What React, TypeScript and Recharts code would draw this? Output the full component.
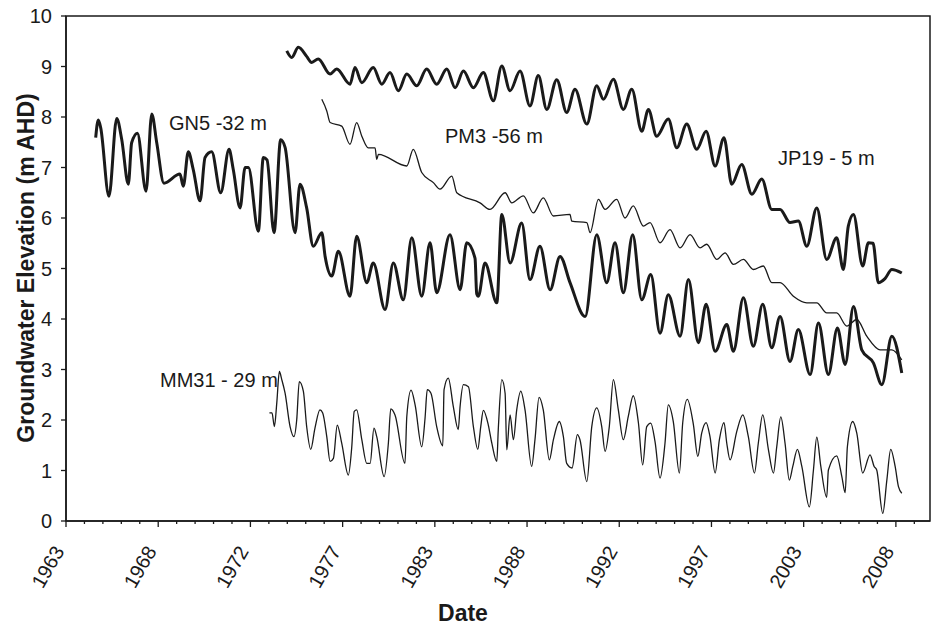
import { LineChart, Line, XAxis, YAxis, ReferenceArea } from 'recharts';

// x values are in axis-years (1963 at the first tick, one minor tick per year)
const xTickLabels = ['1963', '1968', '1972', '1977', '1983', '1988', '1992', '1997', '2003', '2008'];
const xTicks = Array.from({ length: 47 }, (_, i) => 1963 + i);
const yTicks = [0, 1, 2, 3, 4, 5, 6, 7, 8, 9, 10];

const gn5Years = [1964.61, 1964.75, 1964.88, 1965.33, 1965.75, 1966.02, 1966.38, 1966.56, 1966.87, 1967.34, 1967.65, 1967.92, 1968.31, 1969.18, 1969.36, 1969.63, 1969.9, 1970.27, 1970.54, 1970.9, 1971.39, 1971.84, 1972.07, 1972.44, 1972.71, 1972.89, 1973.43, 1973.7, 1973.9, 1974.28, 1974.64, 1974.88, 1975.42, 1975.69, 1976.05, 1976.41, 1976.87, 1977.05, 1977.41, 1977.77, 1978.4, 1978.76, 1979.31, 1979.66, 1980.3, 1980.75, 1981.29, 1981.75, 1982.29, 1982.74, 1983.1, 1983.82, 1984.37, 1984.73, 1985.18, 1985.27, 1985.36, 1985.72, 1986.36, 1986.63, 1987.08, 1987.71, 1988.16, 1988.7, 1989.25, 1989.79, 1990.33, 1991.15, 1991.78, 1992.32, 1992.77, 1993.22, 1993.73, 1994.22, 1994.71, 1995.21, 1995.66, 1996.3, 1996.75, 1997.29, 1997.71, 1998.2, 1998.83, 1999.19, 1999.73, 2000.27, 2000.78, 2001.27, 2001.72, 2002.26, 2002.71, 2003.35, 2003.8, 2004.34, 2004.83, 2005.25, 2005.7, 2006.15, 2006.78, 2007.24, 2007.78, 2008.32];
const gn5Levels = [7.59, 7.94, 7.79, 6.43, 7.97, 7.56, 6.67, 7.49, 7.68, 6.53, 8.06, 7.49, 6.69, 6.87, 6.63, 7.31, 6.96, 6.34, 7.2, 7.31, 6.5, 7.36, 6.96, 6.2, 7.0, 7.0, 5.74, 7.2, 7.15, 5.71, 7.55, 7.4, 5.71, 6.67, 6.2, 5.44, 5.71, 5.24, 4.85, 5.34, 4.45, 5.64, 4.72, 5.11, 4.19, 5.11, 4.38, 5.61, 4.45, 5.51, 4.52, 5.67, 4.58, 5.51, 5.2, 4.5, 4.45, 5.11, 4.32, 6.07, 5.11, 5.9, 4.78, 5.44, 4.58, 5.24, 4.72, 4.05, 5.67, 4.72, 5.51, 4.52, 5.67, 4.38, 4.88, 3.72, 4.48, 3.66, 4.78, 3.53, 4.29, 3.36, 3.89, 3.36, 4.42, 3.46, 4.29, 3.43, 4.05, 3.16, 3.79, 2.9, 3.92, 2.9, 3.82, 3.1, 4.25, 3.39, 3.13, 2.7, 3.66, 2.93];

const jp19Years = [1974.97, 1975.24, 1975.6, 1976.05, 1976.32, 1976.68, 1977.32, 1977.68, 1978.4, 1978.67, 1979.04, 1979.66, 1980.12, 1980.57, 1981.02, 1981.48, 1982.02, 1982.56, 1983.1, 1983.65, 1984.1, 1984.55, 1985.09, 1985.63, 1986.17, 1986.63, 1987.08, 1987.62, 1988.16, 1988.61, 1989.07, 1989.61, 1990.15, 1990.6, 1991.24, 1991.78, 1992.14, 1992.68, 1993.22, 1993.68, 1994.22, 1994.58, 1995.03, 1995.66, 1996.12, 1996.66, 1997.2, 1997.71, 1998.2, 1998.68, 1999.1, 1999.64, 2000.19, 2000.73, 2001.27, 2001.72, 2002.26, 2002.71, 2003.17, 2003.71, 2004.25, 2004.79, 2005.15, 2005.42, 2005.7, 2006.2, 2006.51, 2006.76, 2007.05, 2007.41, 2007.78, 2008.32];
const jp19Levels = [9.31, 9.18, 9.38, 9.2, 9.08, 9.15, 8.85, 8.95, 8.65, 8.98, 8.68, 8.98, 8.65, 8.88, 8.52, 8.85, 8.62, 8.95, 8.65, 8.95, 8.58, 8.91, 8.58, 8.88, 8.32, 9.01, 8.52, 8.91, 8.22, 8.82, 8.15, 8.74, 8.09, 8.55, 7.86, 8.62, 8.35, 8.75, 8.15, 8.55, 7.72, 8.15, 7.62, 7.96, 7.39, 7.86, 7.36, 7.72, 7.03, 7.59, 6.67, 7.06, 6.47, 6.77, 6.17, 6.17, 5.91, 5.94, 5.44, 6.2, 5.18, 5.61, 4.98, 5.84, 6.07, 5.05, 5.51, 5.5, 4.72, 4.8, 4.98, 4.91];

const pm3Years = [1976.87, 1977.14, 1977.32, 1977.95, 1978.4, 1978.76, 1979.04, 1979.39, 1979.76, 1979.85, 1979.94, 1981.48, 1981.83, 1982.29, 1982.92, 1983.28, 1983.92, 1984.19, 1985.45, 1985.99, 1986.81, 1987.17, 1987.8, 1988.34, 1988.88, 1989.43, 1990.33, 1990.42, 1991.24, 1991.42, 1991.87, 1992.23, 1992.86, 1993.31, 1993.76, 1994.31, 1994.67, 1995.21, 1995.75, 1996.3, 1996.84, 1997.38, 1997.74, 1998.29, 1998.74, 1999.19, 1999.73, 2000.27, 2000.81, 2001.27, 2001.72, 2002.44, 2003.17, 2003.71, 2004.25, 2004.79, 2005.34, 2005.88, 2006.42, 2007.14, 2007.78, 2008.32];
const pm3Levels = [8.35, 8.12, 7.89, 7.82, 7.46, 7.89, 7.62, 7.39, 7.39, 7.16, 7.26, 7.03, 7.36, 6.9, 6.7, 6.57, 6.83, 6.5, 6.3, 6.17, 6.5, 6.3, 6.44, 6.1, 6.4, 6.04, 6.07, 5.94, 5.91, 5.71, 6.37, 6.17, 6.37, 6.0, 6.24, 5.84, 5.91, 5.51, 5.77, 5.41, 5.67, 5.41, 5.48, 5.18, 5.31, 5.08, 5.18, 4.98, 5.05, 4.72, 4.72, 4.45, 4.32, 4.32, 4.12, 4.12, 3.86, 3.99, 3.66, 3.39, 3.39, 3.19];

const mm31Years = [1974.03, 1974.17, 1974.3, 1974.43, 1974.57, 1974.7, 1974.88, 1975.15, 1975.36, 1975.51, 1975.65, 1975.87, 1976.05, 1976.27, 1976.5, 1976.77, 1976.92, 1977.14, 1977.32, 1977.5, 1977.71, 1977.95, 1978.31, 1978.49, 1978.63, 1978.76, 1979.04, 1979.31, 1979.49, 1979.7, 1979.85, 1980.25, 1980.48, 1980.61, 1980.84, 1981.38, 1981.48, 1981.71, 1981.93, 1982.29, 1982.47, 1982.59, 1982.79, 1983.1, 1983.43, 1983.5, 1983.73, 1984.0, 1984.27, 1984.37, 1984.55, 1984.82, 1985.09, 1985.33, 1985.49, 1985.63, 1985.9, 1986.09, 1986.36, 1986.44, 1986.63, 1986.81, 1986.9, 1987.08, 1987.26, 1987.44, 1987.66, 1987.89, 1988.25, 1988.43, 1988.65, 1988.88, 1989.21, 1989.43, 1989.75, 1989.97, 1990.15, 1990.44, 1990.73, 1990.87, 1991.24, 1991.51, 1991.78, 1992.05, 1992.23, 1992.46, 1992.68, 1992.95, 1993.22, 1993.49, 1993.76, 1994.04, 1994.27, 1994.49, 1994.71, 1994.94, 1995.21, 1995.48, 1995.66, 1995.93, 1996.26, 1996.44, 1996.69, 1997.02, 1997.26, 1997.47, 1997.71, 1997.92, 1998.2, 1998.43, 1998.68, 1998.83, 1999.01, 1999.37, 1999.7, 2000.0, 2000.33, 2000.54, 2000.78, 2001.09, 2001.36, 2001.54, 2001.76, 2001.99, 2002.22, 2002.41, 2002.66, 2002.9, 2003.31, 2003.53, 2003.71, 2003.93, 2004.25, 2004.34, 2004.79, 2005.07, 2005.25, 2005.37, 2005.66, 2005.88, 2006.2, 2006.6, 2006.82, 2006.96, 2007.29, 2007.51, 2007.72, 2007.96, 2008.14, 2008.32];
const mm31Levels = [2.14, 2.14, 1.87, 2.34, 2.96, 2.8, 2.53, 1.87, 1.67, 2.0, 2.76, 2.57, 1.87, 1.42, 1.84, 2.2, 2.14, 1.67, 1.18, 1.24, 1.9, 1.54, 0.91, 1.44, 2.17, 2.2, 1.61, 1.14, 1.14, 1.84, 1.67, 0.88, 1.54, 2.22, 2.1, 1.14, 2.07, 2.59, 2.3, 1.47, 2.04, 2.6, 2.53, 1.87, 1.49, 2.6, 2.83, 2.27, 1.81, 2.27, 2.7, 2.66, 1.87, 1.42, 1.87, 2.19, 1.9, 1.54, 1.18, 1.81, 2.8, 2.53, 1.41, 2.1, 1.61, 2.2, 2.57, 2.2, 1.08, 1.61, 2.45, 2.2, 1.21, 1.61, 1.97, 1.67, 1.14, 1.05, 1.71, 1.61, 0.78, 1.87, 2.24, 1.87, 1.38, 1.87, 2.8, 2.2, 1.61, 2.07, 2.48, 1.94, 1.11, 1.87, 1.94, 1.57, 0.85, 1.54, 2.3, 1.97, 0.95, 1.94, 2.41, 1.91, 1.28, 1.74, 1.95, 1.67, 0.95, 1.61, 1.95, 1.54, 1.21, 1.77, 2.1, 1.67, 0.95, 1.54, 2.1, 1.41, 0.95, 1.47, 2.06, 1.54, 0.81, 1.08, 1.42, 1.08, 0.28, 1.01, 1.66, 1.08, 0.47, 1.01, 1.29, 0.88, 0.56, 1.47, 1.97, 1.74, 0.95, 1.31, 1.08, 1.01, 0.15, 0.81, 1.42, 1.08, 0.68, 0.55];

const toSeries = (years: number[], levels: number[]) => years.map((t, i) => ({ t, v: levels[i] }));
const gn5 = toSeries(gn5Years, gn5Levels);
const jp19 = toSeries(jp19Years, jp19Levels);
const pm3 = toSeries(pm3Years, pm3Levels);
const mm31 = toSeries(mm31Years, mm31Levels);

const font = '"Liberation Sans", Arial, sans-serif';
const ink = '#1a1a1a';

const XTick = (props: any) => {
  const { x, y, payload } = props;
  const k = Math.round(payload.value - 1963);
  const major = k % 5 === 0;
  const ly = y + 30;
  return (
    <g>
      <line x1={x} y1={y} x2={x} y2={y + (major ? 6 : 3)} stroke={ink} strokeWidth={1.3} />
      {major && (
        <text x={x - 1} y={ly} transform={`rotate(-60 ${x - 1} ${ly})`} textAnchor="end"
          fontSize={20} fontFamily={font} fill={ink}>
          {xTickLabels[k / 5]}
        </text>
      )}
    </g>
  );
};

export default function App() {
  return (
    <div style={{ position: 'absolute', left: 0, top: 0, width: 932, height: 629, background: '#fff' }}>
      <LineChart width={932} height={629} margin={{ top: 16, right: 2, bottom: 0, left: 0 }}>
        <XAxis dataKey="t" type="number" domain={[1963, 2009.85]} ticks={xTicks} allowDataOverflow
          interval={0} height={108} tickSize={0} tickMargin={0} tickLine={false}
          axisLine={{ stroke: ink, strokeWidth: 1.5 }} tick={<XTick />} />
        <YAxis type="number" domain={[0, 10]} ticks={yTicks} width={66} interval={0}
          tickSize={5} tickMargin={9} axisLine={{ stroke: ink, strokeWidth: 1.5 }}
          tickLine={{ stroke: ink, strokeWidth: 1.3 }}
          tick={{ fontSize: 20, fontFamily: font, fill: ink }} />
        <ReferenceArea x1={1963} x2={2009.85} y1={0} y2={10} fill="none" stroke={ink} strokeWidth={1.5} ifOverflow="visible" />
        <Line data={jp19} dataKey="v" type="monotone" stroke={ink} strokeWidth={3} strokeLinejoin="round" dot={false} isAnimationActive={false} />
        <Line data={gn5} dataKey="v" type="monotone" stroke={ink} strokeWidth={3} strokeLinejoin="round" dot={false} isAnimationActive={false} />
        <Line data={pm3} dataKey="v" type="monotone" stroke={ink} strokeWidth={1.3} dot={false} isAnimationActive={false} />
        <Line data={mm31} dataKey="v" type="monotone" stroke={ink} strokeWidth={1.3} dot={false} isAnimationActive={false} />
        <text x={169} y={130} fontSize={20} fontFamily={font} fill={ink}>GN5 -32 m</text>
        <text x={445} y={143} fontSize={20} fontFamily={font} fill={ink}>PM3 -56 m</text>
        <text x={778} y={165} fontSize={20} fontFamily={font} fill={ink}>JP19 - 5 m</text>
        <text x={160} y={387} fontSize={20} fontFamily={font} fill={ink}>MM31 - 29 m</text>
        <text x={463} y={621} textAnchor="middle" fontSize={23} fontWeight="bold" fontFamily={font} fill={ink}>Date</text>
        <text x={26} y={268} transform="rotate(-90 26 268)" textAnchor="middle" dominantBaseline="central"
          fontSize={23} fontWeight="bold" fontFamily={font} fill={ink}>Groundwater Elevation (m AHD)</text>
      </LineChart>
    </div>
  );
}
